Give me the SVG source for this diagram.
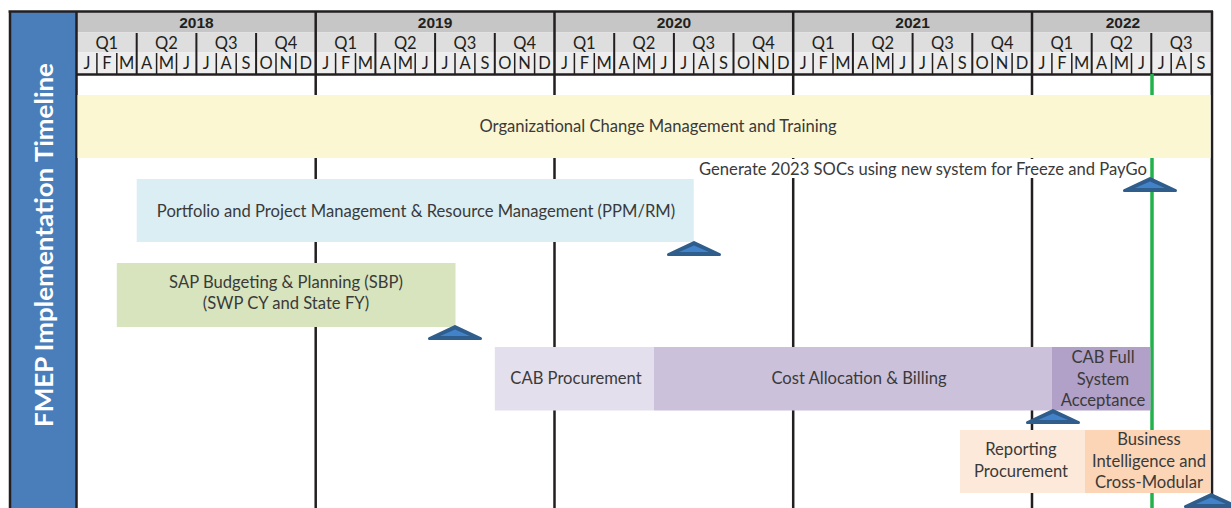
<svg xmlns="http://www.w3.org/2000/svg" xmlns:xlink="http://www.w3.org/1999/xlink" width="1231" height="508" viewBox="0 0 1231 508">
<style>
.hd{font-family:Lato,"Noto Sans","Liberation Sans",sans-serif;font-size:16.5px;fill:#231f20;text-anchor:middle}
.yr{font-family:"Liberation Sans",Arial,sans-serif;font-weight:bold;font-size:15.5px;fill:#231f20;text-anchor:middle}
.lb{font-family:Lato,"Noto Sans","Liberation Sans",sans-serif;font-size:16.6px;fill:#3a3a3a;text-anchor:middle}
.ttl{font-family:Lato,"Noto Sans","Liberation Sans",sans-serif;font-weight:bold;font-size:25px;fill:#ffffff;text-anchor:middle}
.blk{stroke:#231f20;fill:none}
</style>
<defs>
<g id="ms">
<polygon points="0,0 -25.5,12 25.5,12" fill="#2f5d8c" stroke="#2f5d8c" stroke-width="3" stroke-linejoin="round"/>
<polygon points="0,3 -15,9.5 15,9.5" fill="#4282c8"/>
</g>
</defs>
<rect width="1231" height="508" fill="#ffffff"/>

<g id="header">
<rect x="77" y="12" width="1135" height="20.5" fill="#c6c6c6"/>
<rect x="77" y="33" width="1135" height="19.5" fill="#dedede"/>
<rect x="77" y="53" width="1135" height="21" fill="#ededed"/>
<path class="blk" stroke-width="1.5" d="M96.9 53V74M116.8 53V74M156.6 53V74M176.5 53V74M216.3 53V74M236.2 53V74M276 53V74M295.8 53V74M335.6 53V74M355.5 53V74M395.3 53V74M415.2 53V74M455 53V74M474.9 53V74M514.7 53V74M534.6 53V74M574.4 53V74M594.3 53V74M634.1 53V74M654 53V74M693.7 53V74M713.6 53V74M753.4 53V74M773.3 53V74M813.1 53V74M833 53V74M872.8 53V74M892.7 53V74M932.5 53V74M952.4 53V74M992.2 53V74M1012.1 53V74M1051.9 53V74M1071.8 53V74M1111.6 53V74M1131.5 53V74M1171.2 53V74M1191.1 53V74"/>
<path class="blk" stroke-width="2" d="M136.7 33V74M196.4 33V74M256.1 33V74M375.4 33V74M435.1 33V74M494.8 33V74M614.2 33V74M673.9 33V74M733.5 33V74M852.9 33V74M912.6 33V74M972.3 33V74M1091.7 33V74M1151.3 33V74"/>
<path class="blk" stroke-width="2.5" d="M315.7 12V74M554.5 12V74M793.2 12V74M1032 12V74M77 74.5H1212"/>
<text class="yr" x="196.4" y="27.5">2018</text>
<text class="yr" x="435.1" y="27.5">2019</text>
<text class="yr" x="673.9" y="27.5">2020</text>
<text class="yr" x="912.6" y="27.5">2021</text>
<text class="yr" x="1123" y="27.5">2022</text>
<g class="hd">
<text x="106.8" y="48.5">Q1</text><text x="166.5" y="48.5">Q2</text><text x="226.2" y="48.5">Q3</text><text x="285.9" y="48.5">Q4</text>
<text x="345.6" y="48.5">Q1</text><text x="405.3" y="48.5">Q2</text><text x="465" y="48.5">Q3</text><text x="524.6" y="48.5">Q4</text>
<text x="584.3" y="48.5">Q1</text><text x="644" y="48.5">Q2</text><text x="703.7" y="48.5">Q3</text><text x="763.4" y="48.5">Q4</text>
<text x="823.1" y="48.5">Q1</text><text x="882.8" y="48.5">Q2</text><text x="942.4" y="48.5">Q3</text><text x="1002.1" y="48.5">Q4</text>
<text x="1061.8" y="48.5">Q1</text><text x="1121.5" y="48.5">Q2</text><text x="1181.2" y="48.5">Q3</text>
</g>
<g class="hd">
<text x="86.9" y="68.5">J</text><text x="106.8" y="68.5">F</text><text x="126.7" y="68.5">M</text><text x="146.6" y="68.5">A</text><text x="166.5" y="68.5">M</text><text x="186.4" y="68.5">J</text><text x="206.3" y="68.5">J</text><text x="226.2" y="68.5">A</text><text x="246.1" y="68.5">S</text><text x="266" y="68.5">O</text><text x="285.9" y="68.5">N</text><text x="305.8" y="68.5">D</text>
<text x="325.7" y="68.5">J</text><text x="345.6" y="68.5">F</text><text x="365.5" y="68.5">M</text><text x="385.4" y="68.5">A</text><text x="405.3" y="68.5">M</text><text x="425.2" y="68.5">J</text><text x="445.1" y="68.5">J</text><text x="465" y="68.5">A</text><text x="484.9" y="68.5">S</text><text x="504.8" y="68.5">O</text><text x="524.6" y="68.5">N</text><text x="544.5" y="68.5">D</text>
<text x="564.4" y="68.5">J</text><text x="584.3" y="68.5">F</text><text x="604.2" y="68.5">M</text><text x="624.1" y="68.5">A</text><text x="644" y="68.5">M</text><text x="663.9" y="68.5">J</text><text x="683.8" y="68.5">J</text><text x="703.7" y="68.5">A</text><text x="723.6" y="68.5">S</text><text x="743.5" y="68.5">O</text><text x="763.4" y="68.5">N</text><text x="783.3" y="68.5">D</text>
<text x="803.2" y="68.5">J</text><text x="823.1" y="68.5">F</text><text x="843" y="68.5">M</text><text x="862.9" y="68.5">A</text><text x="882.8" y="68.5">M</text><text x="902.7" y="68.5">J</text><text x="922.5" y="68.5">J</text><text x="942.4" y="68.5">A</text><text x="962.3" y="68.5">S</text><text x="982.2" y="68.5">O</text><text x="1002.1" y="68.5">N</text><text x="1022" y="68.5">D</text>
<text x="1041.9" y="68.5">J</text><text x="1061.8" y="68.5">F</text><text x="1081.7" y="68.5">M</text><text x="1101.6" y="68.5">A</text><text x="1121.5" y="68.5">M</text><text x="1141.4" y="68.5">J</text><text x="1161.3" y="68.5">J</text><text x="1181.2" y="68.5">A</text><text x="1201.1" y="68.5">S</text>
</g>
</g>

<g id="title">
<rect x="10" y="12" width="66" height="496" fill="#4a7ebb"/>
<text class="ttl" transform="translate(52.5 245) rotate(-90)" x="0" y="0" textLength="364" lengthAdjust="spacingAndGlyphs">FMEP Implementation Timeline</text>
</g>

<g id="connectors">
<path class="blk" stroke-width="2.5" d="M315.7 74V508M554.5 74V508M793.2 74V508M1032 74V508"/>
<path d="M1152 74V508" stroke="#22b24c" stroke-width="3.5" fill="none"/>
<path class="blk" stroke-width="2.5" d="M8.5 11.5H1213M10 11V508M76.5 11V508M1212 11V508"/>
</g>

<g id="ocm">
<rect x="77.5" y="95" width="1133" height="63" fill="#faf7d2"/>
<text class="lb" x="658" y="132">Organizational Change Management and Training</text>
</g>

<g id="soc2023">
<rect x="698" y="159" width="449" height="19" fill="#ffffff"/>
<text class="lb" x="923" y="175">Generate 2023 SOCs using new system for Freeze and PayGo</text>
</g>

<g id="ppm">
<rect x="136.7" y="179" width="557" height="63" fill="#daeef3"/>
<text class="lb" x="416" y="216.5">Portfolio and Project Management &amp; Resource Management (PPM/RM)</text>
</g>

<g id="sbp">
<rect x="116.8" y="263" width="338.7" height="64" fill="#d7e4bd"/>
<text class="lb" x="286" y="288">SAP Budgeting &amp; Planning (SBP)</text>
<text class="lb" x="286" y="309">(SWP CY and State FY)</text>
</g>

<g id="cab-procurement">
<rect x="494.8" y="347" width="159.5" height="63.5" fill="#e4dfec"/>
<text class="lb" x="576" y="383.5">CAB Procurement</text>
</g>

<g id="cost-allocation">
<rect x="654" y="347" width="398.5" height="63.5" fill="#ccc1da"/>
<text class="lb" x="859" y="383.5">Cost Allocation &amp; Billing</text>
</g>

<g id="cab-full">
<rect x="1052" y="347" width="98.5" height="63.5" fill="#b1a0c7"/>
<text class="lb" x="1103" y="363">CAB Full</text>
<text class="lb" x="1103" y="384.5">System</text>
<text class="lb" x="1103" y="405.5">Acceptance</text>
</g>

<g id="reporting">
<rect x="960" y="430" width="125.5" height="63" fill="#fde9d9"/>
<text class="lb" x="1021" y="455">Reporting</text>
<text class="lb" x="1021" y="476.5">Procurement</text>
</g>

<g id="bi">
<rect x="1085" y="430" width="125.5" height="63" fill="#fbd5b5"/>
<text class="lb" x="1149" y="445">Business</text>
<text class="lb" x="1149" y="466.5">Intelligence and</text>
<text class="lb" x="1149" y="488">Cross-Modular</text>
</g>

<g id="milestones">
<use xlink:href="#ms" transform="translate(694 242.5)"/>
<use xlink:href="#ms" transform="translate(1150 178.5)"/>
<use xlink:href="#ms" transform="translate(455 326.5)"/>
<use xlink:href="#ms" transform="translate(1053 410.5)"/>
<use xlink:href="#ms" transform="translate(1211 494.5)"/>
</g>
</svg>
